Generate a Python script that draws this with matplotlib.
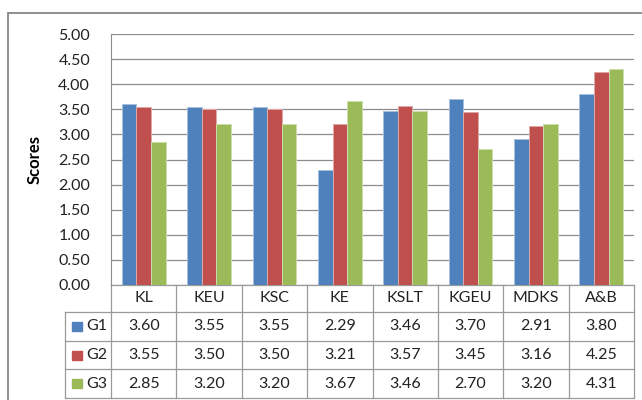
import numpy as np
import matplotlib
matplotlib.use('Agg')
import matplotlib.pyplot as plt
from matplotlib.patches import Rectangle

categories = ['KL', 'KEU', 'KSC', 'KE', 'KSLT', 'KGEU', 'MDKS', 'A&B']
series = ['G1', 'G2', 'G3']
g1 = [3.60, 3.55, 3.55, 2.29, 3.46, 3.70, 2.91, 3.80]
g2 = [3.55, 3.50, 3.50, 3.21, 3.57, 3.45, 3.16, 4.25]
g3 = [2.85, 3.20, 3.20, 3.67, 3.46, 2.70, 3.20, 4.31]
colors = ['#4F81BD', '#C0504D', '#9BBB59']
edges = ['#A7C0DE', '#E0A8A6', '#CDDDAC']

plt.rcParams['font.family'] = ['Lato', 'DejaVu Sans']
W, H = 642, 400
fig = plt.figure(figsize=(W / 100, H / 100), dpi=100)
fs = 11.5

# plot area in pixels
L, R, T, B = 111, 634, 34, 285
ax = fig.add_axes([L / W, 1 - B / H, (R - L) / W, (B - T) / H])

# outer chart border
fig.patches.append(Rectangle((8 / W, -0.1), 1.2, 1 - 13 / H + 0.1, transform=fig.transFigure,
                             fill=False, edgecolor='#878787', lw=1.3))

x = np.arange(len(categories))
bw = 0.223
for k, vals in enumerate([g1, g2, g3]):
    ax.bar(x + (k - 1) * bw, vals, bw, color=colors[k], edgecolor=edges[k], lw=0.7, zorder=3)

ax.set_xlim(-0.5, len(categories) - 0.5)
ax.set_ylim(0, 5)
ax.set_yticks(np.arange(0, 5.01, 0.5))
ax.set_yticklabels(['%.2f' % v for v in np.arange(0, 5.01, 0.5)], fontsize=fs)
ax.tick_params(axis='y', length=0, pad=15, colors='#222222')
ax.set_xticks([])
ax.grid(axis='y', color='#8C8C8C', lw=0.9, zorder=0)
for s in ['top', 'right', 'bottom']:
    ax.spines[s].set_visible(False)
ax.spines['left'].set_color('#8C8C8C')
ax.set_ylabel('Scores', fontsize=12, fontweight='bold')
ax.yaxis.set_label_coords((43 - L) / (R - L), 0.5)

# data table under the axis
tc = '#9A9A9A'
def fy(p):
    return (B - p) / (B - T)
def fx(p):
    return (p - L) / (R - L)

rows_y = [285, 312, 341, 369, 398]
n = len(categories)
for i, yy in enumerate(rows_y):
    x0 = 0 if i == 0 else fx(65)
    ax.plot([x0, 1], [fy(yy)] * 2, color=tc, lw=0.9, transform=ax.transAxes, clip_on=False)
ax.plot([fx(65)] * 2, [fy(312), fy(398)], color=tc, lw=0.9, transform=ax.transAxes, clip_on=False)
ax.plot([0, 0], [fy(285), fy(398)], color=tc, lw=0.9, transform=ax.transAxes, clip_on=False)
for i in range(1, n + 1):
    ax.plot([i / n] * 2, [fy(285), fy(398)], color=tc, lw=0.9, transform=ax.transAxes, clip_on=False)

for i, c in enumerate(categories):
    ax.text((i + 0.5) / n, fy((285 + 312) / 2), c, ha='center', va='center', fontsize=fs,
            color='#222222', transform=ax.transAxes)

for k, (name, vals) in enumerate(zip(series, [g1, g2, g3])):
    yc = fy((rows_y[k + 1] + rows_y[k + 2]) / 2)
    ax.add_patch(Rectangle((fx(72), yc - 4.5 / (B - T)), 9.5 / (R - L), 9 / (B - T),
                           transform=ax.transAxes, color=colors[k], clip_on=False))
    ax.text(fx(86), yc, name, ha='left', va='center', fontsize=fs, color='#222222',
            transform=ax.transAxes)
    for i, v in enumerate(vals):
        ax.text((i + 0.5) / n, yc, '%.2f' % v, ha='center', va='center', fontsize=fs,
                color='#222222', transform=ax.transAxes)

fig.savefig('out.png', dpi=100)
